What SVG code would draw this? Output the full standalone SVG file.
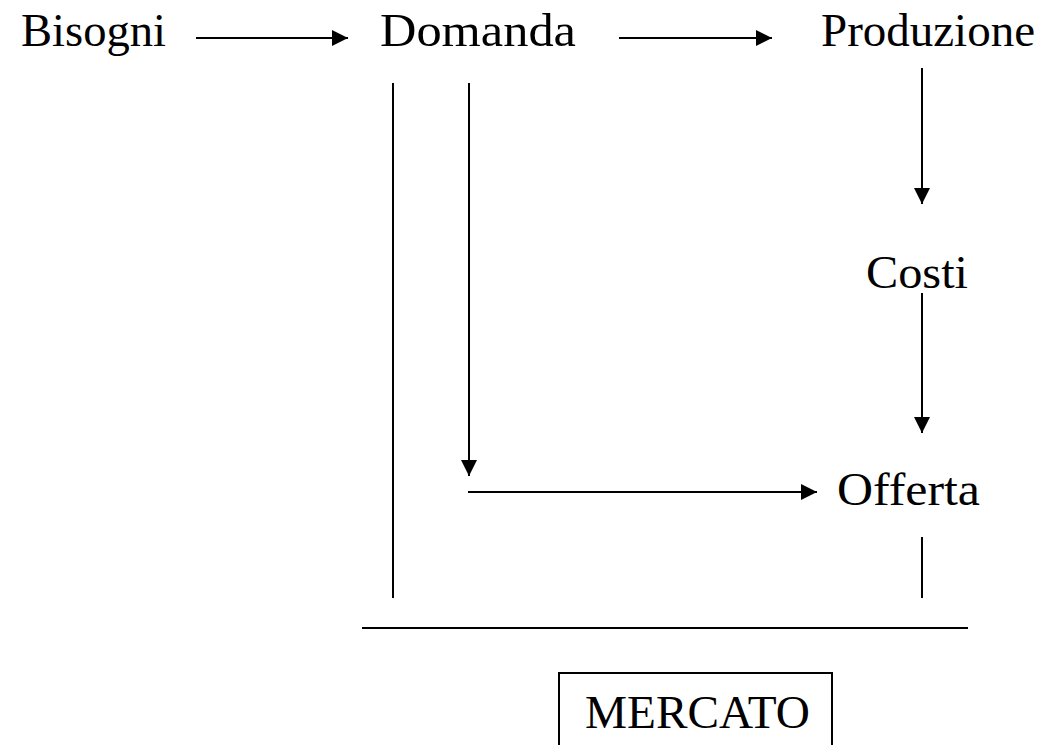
<svg xmlns="http://www.w3.org/2000/svg" width="1061" height="745" viewBox="0 0 1061 745">
<style>
text{font-family:"Liberation Serif","DejaVu Serif",serif;font-size:46px;fill:#000}
.c line{stroke:#000;stroke-width:2;fill:none}
</style>
<defs>
<marker id="ah" markerUnits="userSpaceOnUse" markerWidth="16" markerHeight="16" viewBox="0 0 16 16" refX="16" refY="8" orient="auto">
<path d="M0,0 L16,8 L0,16 Z" fill="#000"/>
</marker>
</defs>
<rect width="1061" height="745" fill="#fff"/>
<g id="bisogni"><text x="21" y="46" textLength="145" lengthAdjust="spacingAndGlyphs">Bisogni</text></g>
<g id="domanda"><text x="380" y="46" textLength="196" lengthAdjust="spacingAndGlyphs">Domanda</text></g>
<g id="produzione"><text x="821" y="46" textLength="214" lengthAdjust="spacingAndGlyphs">Produzione</text></g>
<g id="costi"><text x="866" y="288" textLength="102" lengthAdjust="spacingAndGlyphs">Costi</text></g>
<g id="offerta"><text x="837" y="505" textLength="143" lengthAdjust="spacingAndGlyphs">Offerta</text></g>
<g id="mercato">
<path d="M559,745 V673 H832 V745" fill="none" stroke="#000" stroke-width="2"/>
<text x="585" y="728" font-size="48" textLength="225" lengthAdjust="spacingAndGlyphs">MERCATO</text>
</g>
<g class="c" id="connectors">
<line x1="196" y1="38" x2="348" y2="38" marker-end="url(#ah)"/>
<line x1="619" y1="38" x2="772" y2="38" marker-end="url(#ah)"/>
<line x1="393" y1="83" x2="393" y2="598"/>
<line x1="469" y1="83" x2="469" y2="476" marker-end="url(#ah)"/>
<line x1="468" y1="492" x2="817" y2="492" marker-end="url(#ah)"/>
<line x1="922" y1="68" x2="922" y2="204" marker-end="url(#ah)"/>
<line x1="922" y1="293" x2="922" y2="433" marker-end="url(#ah)"/>
<line x1="922" y1="537" x2="922" y2="598"/>
<line x1="362" y1="628" x2="968" y2="628"/>
</g>
</svg>
